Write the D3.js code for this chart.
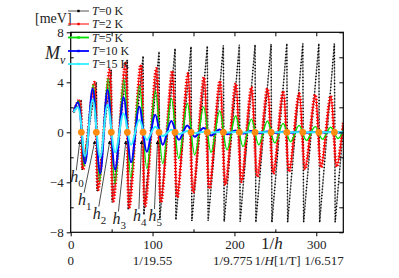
<!DOCTYPE html>
<html>
<head>
<meta charset="utf-8">
<script src="https://cdn.jsdelivr.net/npm/d3@7"></script>
<style>
  body { margin: 0; background: #fff; }
  text { font-family: "Liberation Serif", "DejaVu Serif", serif; fill: #222; }
</style>
</head>
<body>
<svg id="chart"></svg>
<script>
// tick values and labels
var xTicks = [0, 100, 200, 300];
var xMinor = [50, 150, 250];
var hInvLabels = ["0", "1/19.55", "1/9.775", "1/6.517"];
var yTicks = [-8, -4, 0, 4, 8];
var yMinor = [-6, -2, 2, 6];

// h_n positions (zero crossings, orange dots)
var hnX = [13.0, 31.3, 49.6, 69.2, 88.4, 107.9, 127.5, 147.0, 166.9, 186.5, 206.0, 225.2, 244.8, 264.0, 283.5, 303.1, 322.1];

// T = 0 K (sawtooth vertices)
var t0X = [3.5, 13.0, 14.0, 31.3, 32.3, 49.6, 50.6, 69.2, 70.2, 88.4, 89.4, 107.9, 108.9, 127.5, 128.5, 147.0, 148.0, 166.9, 167.9,
           186.5, 187.5, 206.0, 207.0, 225.2, 226.2, 244.8, 245.8, 264.0, 265.0, 283.5, 284.5, 303.1, 304.1, 322.1, 323.1, 333];
var t0Y = [1.6, 2.6, -3.0, 4.0, -4.7, 5.0, -5.6, 5.8, -6.2, 6.1, -6.6, 6.45, -6.9, 6.7, -7.0, 6.85, -7.1, 6.9, -7.1,
           6.95, -7.15, 7.0, -7.15, 7.0, -7.2, 7.05, -7.2, 7.1, -7.2, 7.1, -7.2, 7.1, -7.2, 7.1, -7.2, 0.4];

// T = 2 K
var t2X = [3.5, 10.5, 15.0, 29.0, 33.5, 47.5, 52.0, 66.8, 71.6, 85.5, 91.0, 104.6, 110.4, 124.0, 130.2, 143.2, 149.6, 162.8, 169.5,
           182.2, 189.1, 201.6, 208.7, 220.7, 228.0, 240.3, 247.6, 259.5, 266.9, 279.0, 286.4, 298.6, 305.9, 317.6, 324.9, 333];
var t2Y = [1.6, 2.6, -2.95, 4.0, -4.6, 5.0, -5.5, 5.5, -6.0, 5.4, -5.9, 5.1, -5.6, 4.9, -5.2, 4.7, -4.8, 4.4, -4.5,
           4.1, -4.2, 3.9, -3.95, 3.6, -3.55, 3.5, -3.3, 3.3, -3.15, 3.1, -2.95, 3.0, -2.8, 2.9, -2.75, 0.8];

// T = 5 K
var t5X = [3.5, 9.5, 16.5, 27.5, 35.5, 45.5, 54.0, 65.0, 73.5, 84.0, 93.0, 103.5, 112.5, 123.0, 132.0, 142.5, 151.5, 162.4, 171.4,
           182.0, 191.0, 201.5, 210.5, 220.7, 229.7, 240.3, 249.3, 259.5, 268.5, 279.0, 288.0, 298.6, 307.6, 317.6, 326.6, 333];
var t5Y = [1.6, 2.5, -2.7, 3.8, -3.9, 4.3, -4.1, 4.2, -3.6, 3.7, -2.9, 3.3, -2.5, 2.7, -2.1, 2.3, -1.8, 2.0, -1.6,
           1.7, -1.4, 1.3, -1.15, 1.05, -1.0, 0.9, -0.85, 0.7, -0.75, 0.55, -0.65, 0.45, -0.55, 0.4, -0.5, 0.2];

// T = 10 K
var t10X = [3.5, 8.8, 17.5, 26.8, 36.0, 45.0, 54.3, 64.6, 73.8, 83.8, 93.0, 103.3, 112.5, 122.9, 132.1, 142.4, 151.6, 162.3, 171.5,
            181.9, 191.1, 201.4, 210.6, 220.6, 229.8, 240.2, 249.4, 259.4, 268.6, 278.9, 288.1, 298.5, 307.7, 317.5, 326.7, 333];
var t10Y = [1.6, 2.4, -2.5, 3.5, -3.3, 3.4, -3.0, 2.8, -2.4, 2.05, -1.55, 1.4, -1.0, 0.9, -0.6, 0.55, -0.35, 0.35, -0.25,
            0.22, -0.15, 0.15, -0.1, 0.1, -0.07, 0.07, -0.05, 0.05, -0.04, 0.04, -0.03, 0.03, -0.02, 0.02, -0.02, 0.0];

// T = 15 K
var t15X = [3.5, 8.8, 17.5, 26.8, 36.0, 45.0, 54.3, 64.6, 73.8, 83.8, 93.0, 103.3, 112.5, 122.9, 132.1, 142.4, 151.6, 162.3, 171.5,
            181.9, 191.1, 201.4, 210.6, 220.6, 229.8, 240.2, 249.4, 259.4, 268.6, 278.9, 288.1, 298.5, 307.7, 317.5, 326.7, 333];
var t15Y = [1.6, 2.0, -1.9, 2.6, -2.0, 2.2, -1.6, 1.5, -1.0, 1.0, -0.6, 0.45, -0.3, 0.2, -0.15, 0.1, -0.07, 0.05, -0.04,
            0.03, -0.02, 0.02, -0.01, 0.01, 0, 0, 0, 0, 0, 0, 0, 0, 0, 0, 0, 0];

// h_n annotation labels (data units)
var hLabels = ["0", "1", "2", "3", "4", "5"];
var hLabelX = [-0.5, 9, 27, 51, 76, 95];
var hLabelY = [-4.0, -5.8, -6.9, -7.3, -7.1, -7.1];

var seriesNames = ["0", "2", "5", "10", "15"];
var seriesColors = ["#000000", "#ff0000", "#00e000", "#0000ff", "#33eeff"];

var W = 399, H = 278;
var pLeft = 70.7, pRight = 343.3, pTop = 32.3, pBottom = 232.3;

var svg = d3.select("#chart").attr("width", W).attr("height", H);

var x = d3.scaleLinear().domain([0, 333]).range([pLeft, pRight]);
var y = d3.scaleLinear().domain([-8, 8]).range([pBottom, pTop]);

svg.append("clipPath").attr("id", "clip")
  .append("rect").attr("x", pLeft).attr("y", pTop).attr("width", pRight - pLeft).attr("height", pBottom - pTop);

var plot = svg.append("g").attr("clip-path", "url(#clip)");

function pts(xs, ys) { return xs.map(function(d, i) { return [d, ys[i]]; }); }

var straight = d3.line().x(function(d) { return x(d[0]); }).y(function(d) { return y(d[1]); });
var smooth = d3.line().curve(d3.curveCatmullRom.alpha(0.5))
  .x(function(d) { return x(d[0]); }).y(function(d) { return y(d[1]); });

// T=0: grey line + black dots
var d0 = pts(t0X, t0Y);
plot.append("path").attr("d", straight(d0))
  .attr("style", "fill:none; stroke:#888; stroke-width:0.8");
plot.append("path").attr("d", straight(d0))
  .attr("style", "fill:none; stroke:#000; stroke-width:1.5; stroke-dasharray:1.1 2");

// T=2: red with cross-like markers
var d2 = pts(t2X, t2Y);
plot.append("path").attr("d", smooth(d2))
  .attr("style", "fill:none; stroke:#ff0000; stroke-width:1.3");
plot.append("path").attr("d", smooth(d2))
  .attr("style", "fill:none; stroke:#ff0000; stroke-width:3; stroke-dasharray:1.2 1.8");

// T=5, 10, 15
plot.append("path").attr("d", smooth(pts(t5X, t5Y)))
  .attr("style", "fill:none; stroke:#00e000; stroke-width:1.4");
plot.append("path").attr("d", smooth(pts(t10X, t10Y)))
  .attr("style", "fill:none; stroke:#0000ff; stroke-width:2");
plot.append("path").attr("d", smooth(pts(t15X, t15Y)))
  .attr("style", "fill:none; stroke:#33eeff; stroke-width:2");

// orange zero-crossing dots
plot.selectAll("circle.hn")
  .data(hnX)
  .enter().append("circle")
  .attr("class", "hn")
  .attr("cx", function(d) { return x(d); })
  .attr("cy", y(0))
  .attr("r", 3.4)
  .attr("style", "fill:#ff8c10");

// arrows to first six h_n
svg.append("defs").append("marker")
  .attr("id", "arr").attr("viewBox", "0 0 6 6").attr("refX", 5).attr("refY", 3)
  .attr("markerWidth", 5).attr("markerHeight", 5).attr("orient", "auto")
  .append("path").attr("d", "M0,0L6,3L0,6Z").attr("fill", "#000");

hLabels.forEach(function(s, i) {
  svg.append("line")
    .attr("x1", x(hLabelX[i]) + 6).attr("y1", y(hLabelY[i]) - 12)
    .attr("x2", x(hnX[i]) - 1.5).attr("y2", y(-0.7))
    .attr("style", "stroke:#000; stroke-width:0.7")
    .attr("marker-end", "url(#arr)");
  var t = svg.append("text")
    .attr("x", x(hLabelX[i])).attr("y", y(hLabelY[i]))
    .style("font-size", "16px");
  t.append("tspan").style("font-style", "italic").text("h");
  t.append("tspan").attr("dy", 5).style("font-size", "11px").text(s);
});

// axes frame
svg.append("rect").attr("x", pLeft).attr("y", pTop).attr("width", pRight - pLeft).attr("height", pBottom - pTop)
  .attr("style", "fill:none; stroke:#000; stroke-width:1.2");

// bottom axis
var bx = svg.append("g").attr("transform", "translate(0," + pBottom + ")")
  .call(d3.axisBottom(x).tickValues(xTicks).tickSize(4).tickFormat(d3.format("d")));
bx.select(".domain").remove();
bx.selectAll("text").style("font-size", "13px").style("font-family", "Liberation Serif");
svg.append("g").attr("transform", "translate(0," + pBottom + ")")
  .call(d3.axisTop(x).tickValues(xMinor).tickSize(3).tickFormat(""))
  .select(".domain").remove();

// top axis (inward)
var tx = svg.append("g").attr("transform", "translate(0," + pTop + ")")
  .call(d3.axisBottom(x).tickValues(xTicks.concat(xMinor)).tickSize(4).tickFormat(""));
tx.select(".domain").remove();

// left axis
var ly = svg.append("g").attr("transform", "translate(" + pLeft + ",0)")
  .call(d3.axisLeft(y).tickValues(yTicks).tickSize(4).tickFormat(d3.format("d")));
ly.select(".domain").remove();
ly.selectAll("text").style("font-size", "13px").style("font-family", "Liberation Serif");
svg.append("g").attr("transform", "translate(" + pLeft + ",0)")
  .call(d3.axisRight(y).tickValues(yMinor).tickSize(3).tickFormat(""))
  .select(".domain").remove();

// right axis (inward)
var ry = svg.append("g").attr("transform", "translate(" + pRight + ",0)")
  .call(d3.axisLeft(y).tickValues(yTicks.concat(yMinor)).tickSize(4).tickFormat(""));
ry.select(".domain").remove();

svg.selectAll(".tick line").attr("stroke", "#000");

// second row: 1/H labels
svg.selectAll("text.hinv")
  .data(hInvLabels)
  .enter().append("text")
  .attr("class", "hinv")
  .attr("x", function(d, i) { return i == 2 ? x(xTicks[i]) + 18 : (i == 3 ? x(xTicks[i]) - 12 : x(xTicks[i])); })
  .attr("y", 265)
  .attr("text-anchor", function(d, i) { return i == 2 ? "end" : (i == 3 ? "start" : "middle"); })
  .style("font-size", "13px")
  .text(function(d) { return d; });

var hl = svg.append("text").attr("x", x(xTicks[2]) + 20).attr("y", 265).style("font-size", "13px");
hl.append("tspan").text("1/");
hl.append("tspan").style("font-style", "italic").text("H");
hl.append("tspan").text("[1/T]");

// 1/h label
var ih = svg.append("text").attr("x", 261).attr("y", 249).style("font-size", "17px");
ih.append("tspan").text("1/");
ih.append("tspan").style("font-style", "italic").text("h");

// y labels
svg.append("text").attr("x", 35).attr("y", 23).style("font-size", "14px").text("[meV]");
var my = svg.append("text").attr("x", 45).attr("y", 59).style("font-size", "18px");
my.append("tspan").style("font-style", "italic").text("M");
my.append("tspan").attr("dy", 5).style("font-size", "12px").style("font-style", "italic").text("v");

// legend
var legY = [11, 24, 37.5, 51, 64];
seriesNames.forEach(function(n, i) {
  var g = svg.append("g");
  g.append("line").attr("x1", 68).attr("x2", 89).attr("y1", legY[i]).attr("y2", legY[i])
    .attr("style", "stroke:" + (i == 0 ? "#555" : seriesColors[i]) + "; stroke-width:" + (i < 2 ? 1 : 1.8));
  g.append("rect").attr("x", 77.3).attr("y", legY[i] - 1.2).attr("width", 2.4).attr("height", 2.4)
    .attr("fill", seriesColors[i]);
  var t = g.append("text").attr("x", 92).attr("y", legY[i] + 4).style("font-size", "12px");
  t.append("tspan").style("font-style", "italic").text("T");
  t.append("tspan").text("=" + n + " K");
});
</script>
</body>
</html>
